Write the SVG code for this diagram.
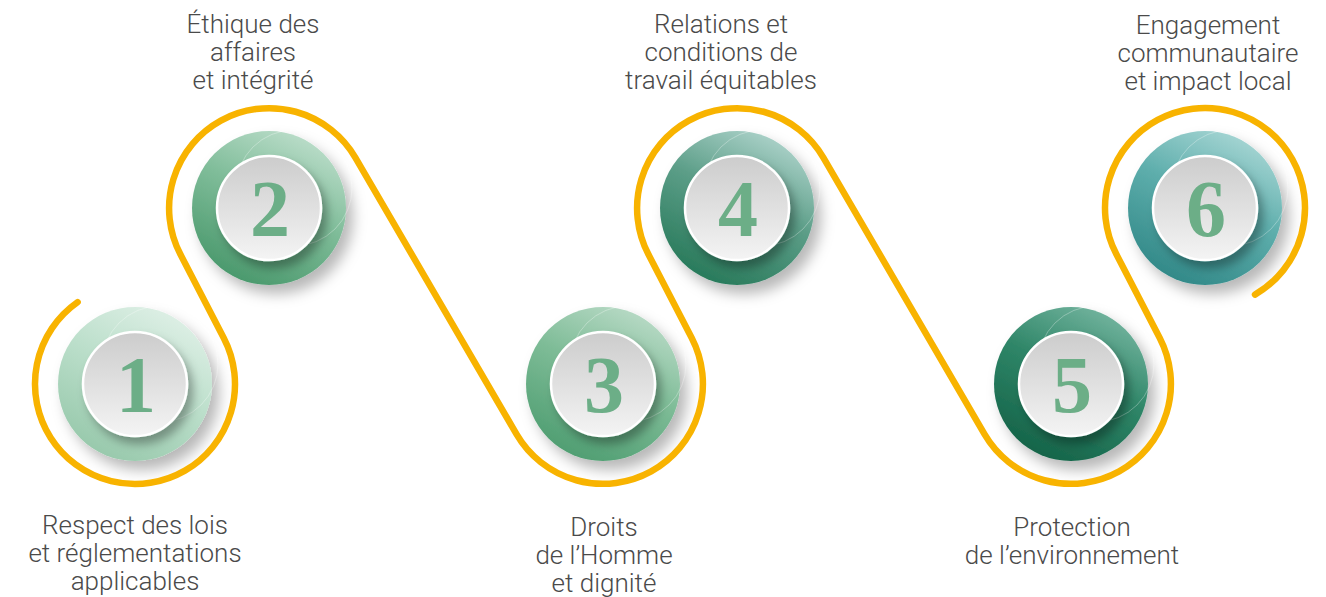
<svg xmlns="http://www.w3.org/2000/svg" width="1326" height="597" viewBox="0 0 1326 597">
<defs>
<style>
.lbl{font-family:Roboto,"Liberation Sans",Arial,sans-serif;font-weight:300;font-size:26px;fill:#4a4a4a;text-anchor:middle}
.num{font-family:"Liberation Serif","Times New Roman",serif;font-weight:bold;font-size:80px;fill:#6cae87;text-anchor:middle}
.disc{filter:url(#fOuter)}
.inner{fill:url(#gInner);stroke:#fff;stroke-width:2.5;filter:url(#fInner)}
.ring{fill:none;stroke:#fff;stroke-opacity:.3;stroke-width:1}
.route{fill:none;stroke:#F8B300;stroke-width:6.5;stroke-linecap:round;stroke-linejoin:round}
</style>
<filter id="fOuter" x="-30%" y="-30%" width="170%" height="170%">
<feGaussianBlur in="SourceAlpha" stdDeviation="7"/>
<feOffset dx="7" dy="9" result="b"/>
<feFlood flood-color="#000" flood-opacity="0.28"/>
<feComposite in2="b" operator="in"/>
<feMerge><feMergeNode/><feMergeNode in="SourceGraphic"/></feMerge>
</filter>
<filter id="fInner" x="-30%" y="-30%" width="170%" height="170%">
<feGaussianBlur in="SourceAlpha" stdDeviation="5"/>
<feOffset dx="5" dy="7" result="b"/>
<feFlood flood-color="#000" flood-opacity="0.32"/>
<feComposite in2="b" operator="in"/>
<feMerge><feMergeNode/><feMergeNode in="SourceGraphic"/></feMerge>
</filter>
<linearGradient id="gInner" x1="0" y1="0" x2="0" y2="1">
<stop offset="0" stop-color="#cccccc"/>
<stop offset="1" stop-color="#f4f4f4"/>
</linearGradient>
<linearGradient id="g1" x1="0.85" y1="0.1" x2="0.35" y2="1">
<stop offset="0" stop-color="#ddefe5"/>
<stop offset="0.45" stop-color="#bcdfcb"/>
<stop offset="1" stop-color="#98c9ac"/>
</linearGradient>
<linearGradient id="g2" x1="0.85" y1="0.1" x2="0.4" y2="1">
<stop offset="0" stop-color="#b9dcc8"/>
<stop offset="0.45" stop-color="#80bd9a"/>
<stop offset="1" stop-color="#4c9a6e"/>
</linearGradient>
<linearGradient id="g3" x1="0.85" y1="0.1" x2="0.4" y2="1">
<stop offset="0" stop-color="#b6d9c4"/>
<stop offset="0.45" stop-color="#7ebc97"/>
<stop offset="1" stop-color="#519f73"/>
</linearGradient>
<linearGradient id="g4" x1="0.85" y1="0.1" x2="0.4" y2="1">
<stop offset="0" stop-color="#a9d0c7"/>
<stop offset="0.45" stop-color="#5c9e88"/>
<stop offset="1" stop-color="#2a7b5c"/>
</linearGradient>
<linearGradient id="g5" x1="0.85" y1="0.1" x2="0.4" y2="1">
<stop offset="0" stop-color="#70b29c"/>
<stop offset="0.45" stop-color="#2f8668"/>
<stop offset="1" stop-color="#16654a"/>
</linearGradient>
<linearGradient id="g6" x1="0.85" y1="0.1" x2="0.4" y2="1">
<stop offset="0" stop-color="#a3d4d2"/>
<stop offset="0.45" stop-color="#5eaeac"/>
<stop offset="1" stop-color="#338a89"/>
</linearGradient>
</defs>
<rect width="1326" height="597" fill="#fff"/>

<g id="node1">
<circle class="disc" cx="135" cy="384" r="77" fill="url(#g1)"/>
<circle class="ring" cx="160" cy="364" r="58"/>
<circle class="inner" cx="135" cy="384" r="52"/>
<text class="num" x="136" y="412">1</text>
<text class="lbl" x="135" y="534">Respect des lois</text>
<text class="lbl" x="135" y="562">et réglementations</text>
<text class="lbl" x="135" y="590">applicables</text>
</g>

<g id="node2">
<circle class="disc" cx="269" cy="208" r="77" fill="url(#g2)"/>
<circle class="ring" cx="294" cy="188" r="58"/>
<circle class="inner" cx="269" cy="208" r="52"/>
<text class="num" x="270" y="236">2</text>
<text class="lbl" x="253" y="33">Éthique des</text>
<text class="lbl" x="253" y="61">affaires</text>
<text class="lbl" x="253" y="89">et intégrité</text>
</g>

<g id="node3">
<circle class="disc" cx="603" cy="384" r="77" fill="url(#g3)"/>
<circle class="ring" cx="628" cy="364" r="58"/>
<circle class="inner" cx="603" cy="384" r="52"/>
<text class="num" x="604" y="412">3</text>
<text class="lbl" x="604" y="536">Droits</text>
<text class="lbl" x="604" y="564">de l’Homme</text>
<text class="lbl" x="604" y="592">et dignité</text>
</g>

<g id="node4">
<circle class="disc" cx="737" cy="208" r="77" fill="url(#g4)"/>
<circle class="ring" cx="762" cy="188" r="58"/>
<circle class="inner" cx="737" cy="208" r="52"/>
<text class="num" x="738" y="236">4</text>
<text class="lbl" x="721" y="33">Relations et</text>
<text class="lbl" x="721" y="61">conditions de</text>
<text class="lbl" x="721" y="89">travail équitables</text>
</g>

<g id="node5">
<circle class="disc" cx="1071" cy="384" r="77" fill="url(#g5)"/>
<circle class="ring" cx="1096" cy="364" r="58"/>
<circle class="inner" cx="1071" cy="384" r="52"/>
<text class="num" x="1072" y="412">5</text>
<text class="lbl" x="1072" y="536">Protection</text>
<text class="lbl" x="1072" y="564">de l’environnement</text>
</g>

<g id="node6">
<circle class="disc" cx="1205" cy="208" r="77" fill="url(#g6)"/>
<circle class="ring" cx="1230" cy="188" r="58"/>
<circle class="inner" cx="1205" cy="208" r="52"/>
<text class="num" x="1206" y="236">6</text>
<text class="lbl" x="1208" y="34">Engagement</text>
<text class="lbl" x="1208" y="62">communautaire</text>
<text class="lbl" x="1208" y="90">et impact local</text>
</g>

<g id="connectors">
<path class="route" d="M77.64,302.08 A100,100 0 1 0 223.74,337.91 L180.26,254.09 A100,100 0 0 1 355.37,157.61 L516.63,434.39 A100,100 0 0 0 691.74,337.91 L648.26,254.09 A100,100 0 0 1 823.37,157.61 L984.63,434.39 A100,100 0 0 0 1159.74,337.91 L1116.26,254.09 A100,100 0 1 1 1255,294.6"/>
</g>
</svg>
